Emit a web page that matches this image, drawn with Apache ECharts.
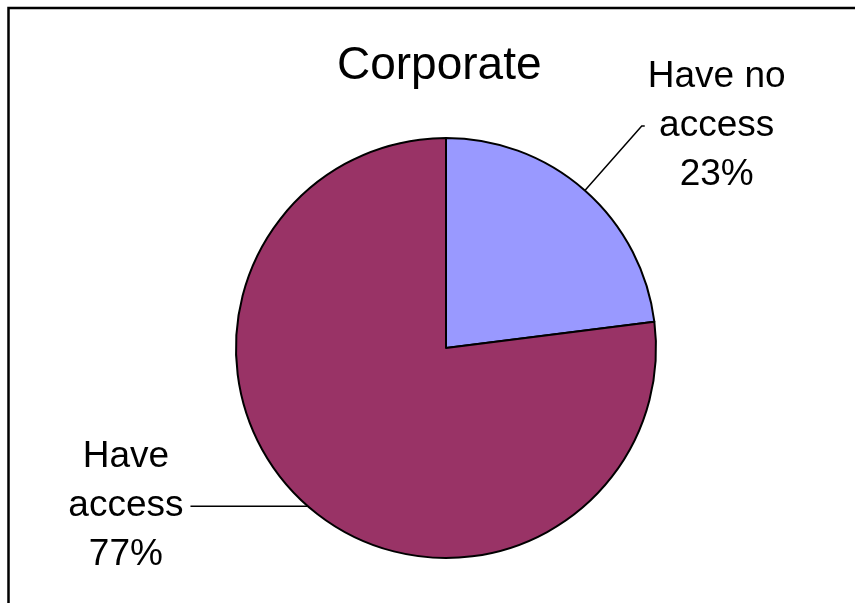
<!DOCTYPE html>
<html>
<head>
<meta charset="utf-8">
<script src="https://cdn.jsdelivr.net/npm/echarts@6/dist/echarts.min.js"></script>
<style>
  html, body { margin: 0; padding: 0; background: #ffffff; }
  #chart { width: 855px; height: 603px; }
</style>
</head>
<body>
<div id="chart"></div>
<script>
// Share of corporate respondents with / without access
const titleText = 'Corporate';
const categories = ['Have no\naccess', 'Have\naccess'];
const shares = [23, 77];
const sliceColors = ['#9999FF', '#993366'];

const FONT = '"Liberation Sans", Arial, Helvetica, sans-serif';

// per-slice leader line lengths (first radial segment, horizontal tail) and text gap
const leaderLines = [
  { length: 86, length2: 3 },
  { length: 1, length2: 116 }
];
const labelGaps = [3, 7];

const chart = echarts.init(document.getElementById('chart'), null, { renderer: 'canvas' });

const pieData = categories.map((name, i) => ({
  name: name,
  value: shares[i],
  itemStyle: { color: sliceColors[i] },
  labelLine: leaderLines[i],
  label: { distanceToLabelLine: labelGaps[i] }
}));

chart.setOption({
  animation: false,
  backgroundColor: '#ffffff',
  title: {
    text: titleText,
    left: 332,
    top: 38,
    textStyle: {
      fontFamily: FONT,
      fontSize: 46,
      fontWeight: 'normal',
      color: '#000000'
    }
  },
  graphic: [
    // frame: top and left edges
    {
      type: 'polyline',
      silent: true,
      shape: { points: [[8.5, 603], [8.5, 8], [855, 8]] },
      style: { stroke: '#000000', lineWidth: 2.5, fill: null }
    }
  ],
  series: [{
    type: 'pie',
    center: [446, 348],
    radius: 210,
    startAngle: 90,
    clockwise: true,
    avoidLabelOverlap: false,
    data: pieData,
    itemStyle: {
      borderColor: '#000000',
      borderWidth: 2
    },
    label: {
      show: true,
      position: 'outside',
      formatter: function (p) {
        return p.name.split('\n').concat(p.value + '%')
          .map(function (s) { return '{t|' + s + '}'; }).join('\n');
      },
      rich: {
        t: {
          fontFamily: FONT,
          fontSize: 37,
          lineHeight: 49,
          color: '#000000',
          align: 'center'
        }
      }
    },
    labelLine: {
      show: true,
      lineStyle: { color: '#000000', width: 1.5 }
    },
    emphasis: { disabled: true }
  }]
});
</script>
</body>
</html>
